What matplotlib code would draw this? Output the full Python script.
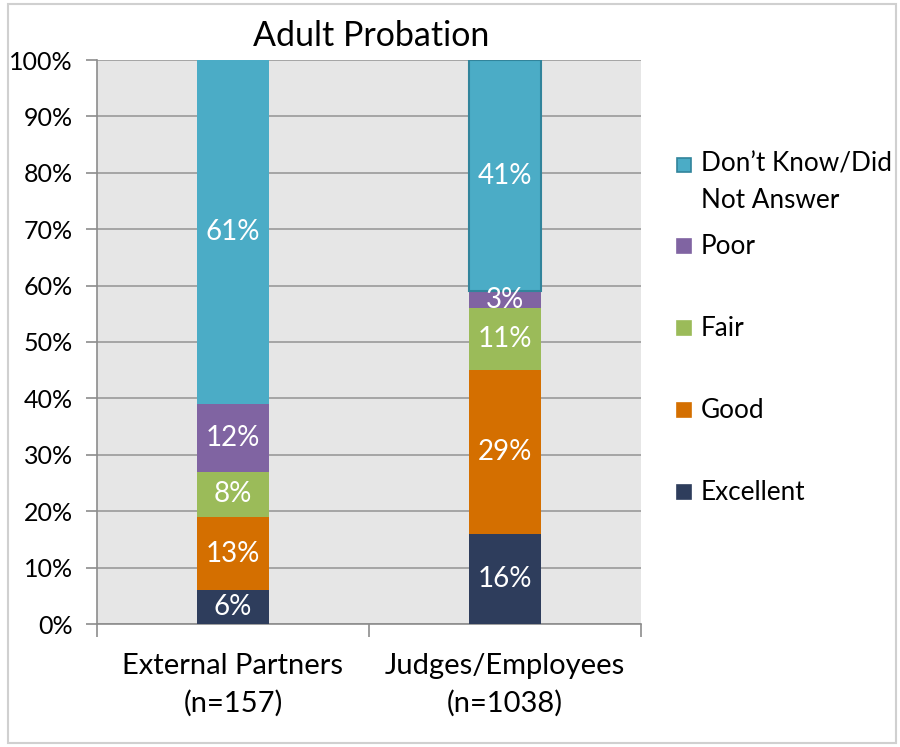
import matplotlib
matplotlib.use("Agg")
import matplotlib.pyplot as plt
from matplotlib.patches import Rectangle
import numpy as np

plt.rcParams['font.family'] = ['Lato', 'DejaVu Sans']

# Survey groups and responses (percent of respondents)
groups = ["External Partners\n(n=157)", "Judges/Employees\n(n=1038)"]
series = ["Excellent", "Good", "Fair", "Poor", "Don\u2019t Know/Did\nNot Answer"]
excellent = [6, 16]
good = [13, 29]
fair = [8, 11]
poor = [12, 3]
dont_know = [61, 41]
values = [excellent, good, fair, poor, dont_know]
colors = ["#2e3d5c", "#d46f00", "#9bbb59", "#8064a2", "#4bacc6"]
yticks = [0, 10, 20, 30, 40, 50, 60, 70, 80, 90, 100]

W, H = 900, 747
fig = plt.figure(figsize=(W / 100, H / 100), dpi=100)
fig.patch.set_facecolor("white")
fig.patches.append(Rectangle((8 / W, 4 / H), 888 / W, 739 / H, transform=fig.transFigure,
                             fill=False, edgecolor="#d0d0d0", linewidth=1.5))

ax = fig.add_axes([97 / W, 1 - 624 / H, (641 - 97) / W, (624 - 60) / H])
ax.set_facecolor("#e6e6e6")

x = np.arange(len(groups))
bar_w = 0.265
bottom = np.zeros(len(groups))
for name, vals, col in zip(series, values, colors):
    vals = np.array(vals, dtype=float)
    ax.bar(x, vals, bar_w, bottom=bottom, color=col, zorder=3, label=name)
    for i, (b, v) in enumerate(zip(bottom, vals)):
        ax.text(x[i], b + v / 2, f"{int(v)}%", ha="center", va="center",
                color="white", fontsize=20, zorder=4)
    bottom += vals

# outline on the upper segment of the second group
top_bar = ax.patches[-1]
top_bar.set_edgecolor("#31849b")
top_bar.set_linewidth(1.5)

ax.set_xlim(-0.5, 1.5)
ax.set_ylim(0, 100)
ax.set_yticks(yticks)
ax.set_yticklabels([f"{t}%" for t in yticks])
ax.yaxis.grid(True, color="#9a9a9a", linewidth=1.2, zorder=0)
ax.set_axisbelow(True)

ax.set_xticks([-0.5, 0.5, 1.5])
ax.set_xticklabels([])
ax.set_xticks(x, minor=True)
ax.set_xticklabels(groups, minor=True, fontsize=21, linespacing=1.49)
ax.tick_params(axis="x", which="major", length=9, color="#8c8c8c", width=1.2, direction="out")
ax.tick_params(axis="x", which="minor", length=0, pad=21)
ax.tick_params(axis="y", length=8, color="#8c8c8c", width=1.2, pad=9.5, labelsize=18)

for s in ["top", "right"]:
    ax.spines[s].set_visible(False)
for s in ["left", "bottom"]:
    ax.spines[s].set_color("#8c8c8c")
    ax.spines[s].set_linewidth(1.2)

fig.text(371 / W, 1 - 36 / H, "Adult Probation", ha="center", va="center", fontsize=24.5)

# legend, top entry first; the marker sits beside the first text line
legend_y = [165, 246, 328, 410, 492]
for name, col, yy in zip(series[::-1], colors[::-1], legend_y):
    ec = "#31849b" if name.startswith("Don") else col
    fig.patches.append(Rectangle((677 / W, 1 - (yy + 7) / H), 14 / W, 14 / H,
                                 transform=fig.transFigure, facecolor=col,
                                 edgecolor=ec, linewidth=1.2))
    n_lines = name.count("\n") + 1
    fig.text(701 / W, 1 - (yy + (n_lines - 1) * 17.5) / H, name, ha="left", va="center",
             fontsize=18.8, linespacing=1.56)

fig.savefig("out.png", dpi=100)
